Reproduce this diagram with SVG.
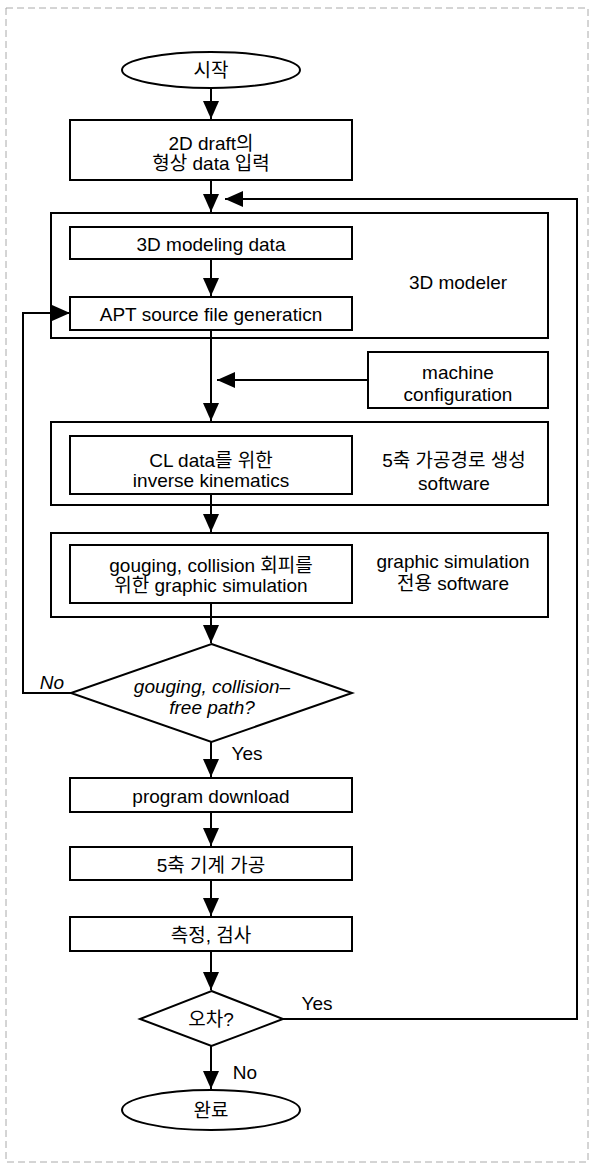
<svg xmlns="http://www.w3.org/2000/svg" width="591" height="1173" viewBox="0 0 591 1173">
<defs>
<marker id="ah" viewBox="0 0 18 16" refX="18" refY="8" markerWidth="18" markerHeight="16" markerUnits="userSpaceOnUse" orient="auto">
<path d="M0,0 L18,8 L0,16 Z" fill="#000"/>
</marker>
</defs>
<style>
.box{fill:#fff;stroke:#000;stroke-width:2}
.cont{fill:none;stroke:#000;stroke-width:2}
.t{font-family:"Liberation Sans","Noto Sans CJK KR",sans-serif;font-size:19px;fill:#000;text-anchor:middle;dominant-baseline:central}
.i{font-style:italic}
.c{fill:none;stroke:#000;stroke-width:2}
.a{fill:none;stroke:#000;stroke-width:2;marker-end:url(#ah)}
.frame{fill:none;stroke:#aaa;stroke-width:1;stroke-dasharray:7 4}
</style>
<rect width="591" height="1173" fill="#fff"/>
<rect class="frame" x="6" y="8" width="582" height="1154"/>

<g id="containers">
<g id="modeler"><rect class="cont" x="51" y="213" width="497" height="125"/><text class="t" x="458" y="282">3D modeler</text></g>
<g id="pathgen"><rect class="cont" x="51" y="422" width="497" height="83"/><text class="t" x="454" y="460">5축 가공경로 생성</text><text class="t" x="454" y="483">software</text></g>
<g id="simsw"><rect class="cont" x="51" y="533" width="497" height="84"/><text class="t" x="453" y="561">graphic simulation</text><text class="t" x="453" y="583">전용 software</text></g>
</g>

<g id="connectors">
<path class="a" d="M211,88 V119"/>
<path class="a" d="M211,180 V212"/>
<path class="a" d="M211,259 V296"/>
<path class="a" d="M211,330 V421"/>
<path class="a" d="M368,380 H217"/>
<path class="a" d="M211,494 V532"/>
<path class="a" d="M211,603 V643"/>
<path class="a" d="M71,693 H23 V313 H70"/>
<path class="a" d="M211,742 V777"/>
<path class="a" d="M211,812 V846"/>
<path class="a" d="M211,880 V916"/>
<path class="a" d="M211,951 V990"/>
<path class="a" d="M283,1019 H577 V199 H225"/>
<path class="a" d="M211,1046 V1089"/>
</g>

<g id="start"><ellipse class="box" cx="211" cy="70" rx="89" ry="18"/><text class="t" x="211" y="70">시작</text></g>
<g id="input2d"><rect class="box" x="70" y="120" width="282" height="60"/><text class="t" x="211" y="143">2D draft의</text><text class="t" x="211" y="163">형상 data 입력</text></g>
<g id="modeling3d"><rect class="box" x="70" y="227" width="282" height="32"/><text class="t" x="211" y="244">3D modeling data</text></g>
<g id="apt"><rect class="box" x="70" y="297" width="282" height="33"/><text class="t" x="211" y="314">APT source file generaticn</text></g>
<g id="machine"><rect class="box" x="368" y="352" width="180" height="56"/><text class="t" x="458" y="372">machine</text><text class="t" x="458" y="394">configuration</text></g>
<g id="cldata"><rect class="box" x="70" y="436" width="282" height="58"/><text class="t" x="211" y="460">CL data를 위한</text><text class="t" x="211" y="480">inverse kinematics</text></g>
<g id="gouging"><rect class="box" x="70" y="545" width="282" height="58"/><text class="t" x="211" y="565">gouging, collision 회피를</text><text class="t" x="211" y="585">위한 graphic simulation</text></g>
<g id="decision1"><polygon class="box" points="211.5,644 352,693 211.5,742 71,693"/><text class="t i" x="212" y="686">gouging, collision–</text><text class="t i" x="212" y="707">free path?</text></g>
<g id="lbl-no1"><text class="t i" x="52" y="682">No</text></g>
<g id="lbl-yes1"><text class="t" x="247" y="753">Yes</text></g>
<g id="download"><rect class="box" x="70" y="778" width="282" height="34"/><text class="t" x="211" y="796">program download</text></g>
<g id="machining"><rect class="box" x="70" y="847" width="282" height="33"/><text class="t" x="211" y="865">5축 기계 가공</text></g>
<g id="measure"><rect class="box" x="70" y="917" width="282" height="34"/><text class="t" x="211" y="935">측정, 검사</text></g>
<g id="decision2"><polygon class="box" points="211.5,991 283,1019 211.5,1046 140,1019"/><text class="t" x="211" y="1019">오차?</text></g>
<g id="lbl-yes2"><text class="t" x="317" y="1003">Yes</text></g>
<g id="lbl-no2"><text class="t" x="245" y="1072">No</text></g>
<g id="end"><ellipse class="box" cx="211" cy="1110" rx="89" ry="20"/><text class="t" x="211" y="1110">완료</text></g>
</svg>
